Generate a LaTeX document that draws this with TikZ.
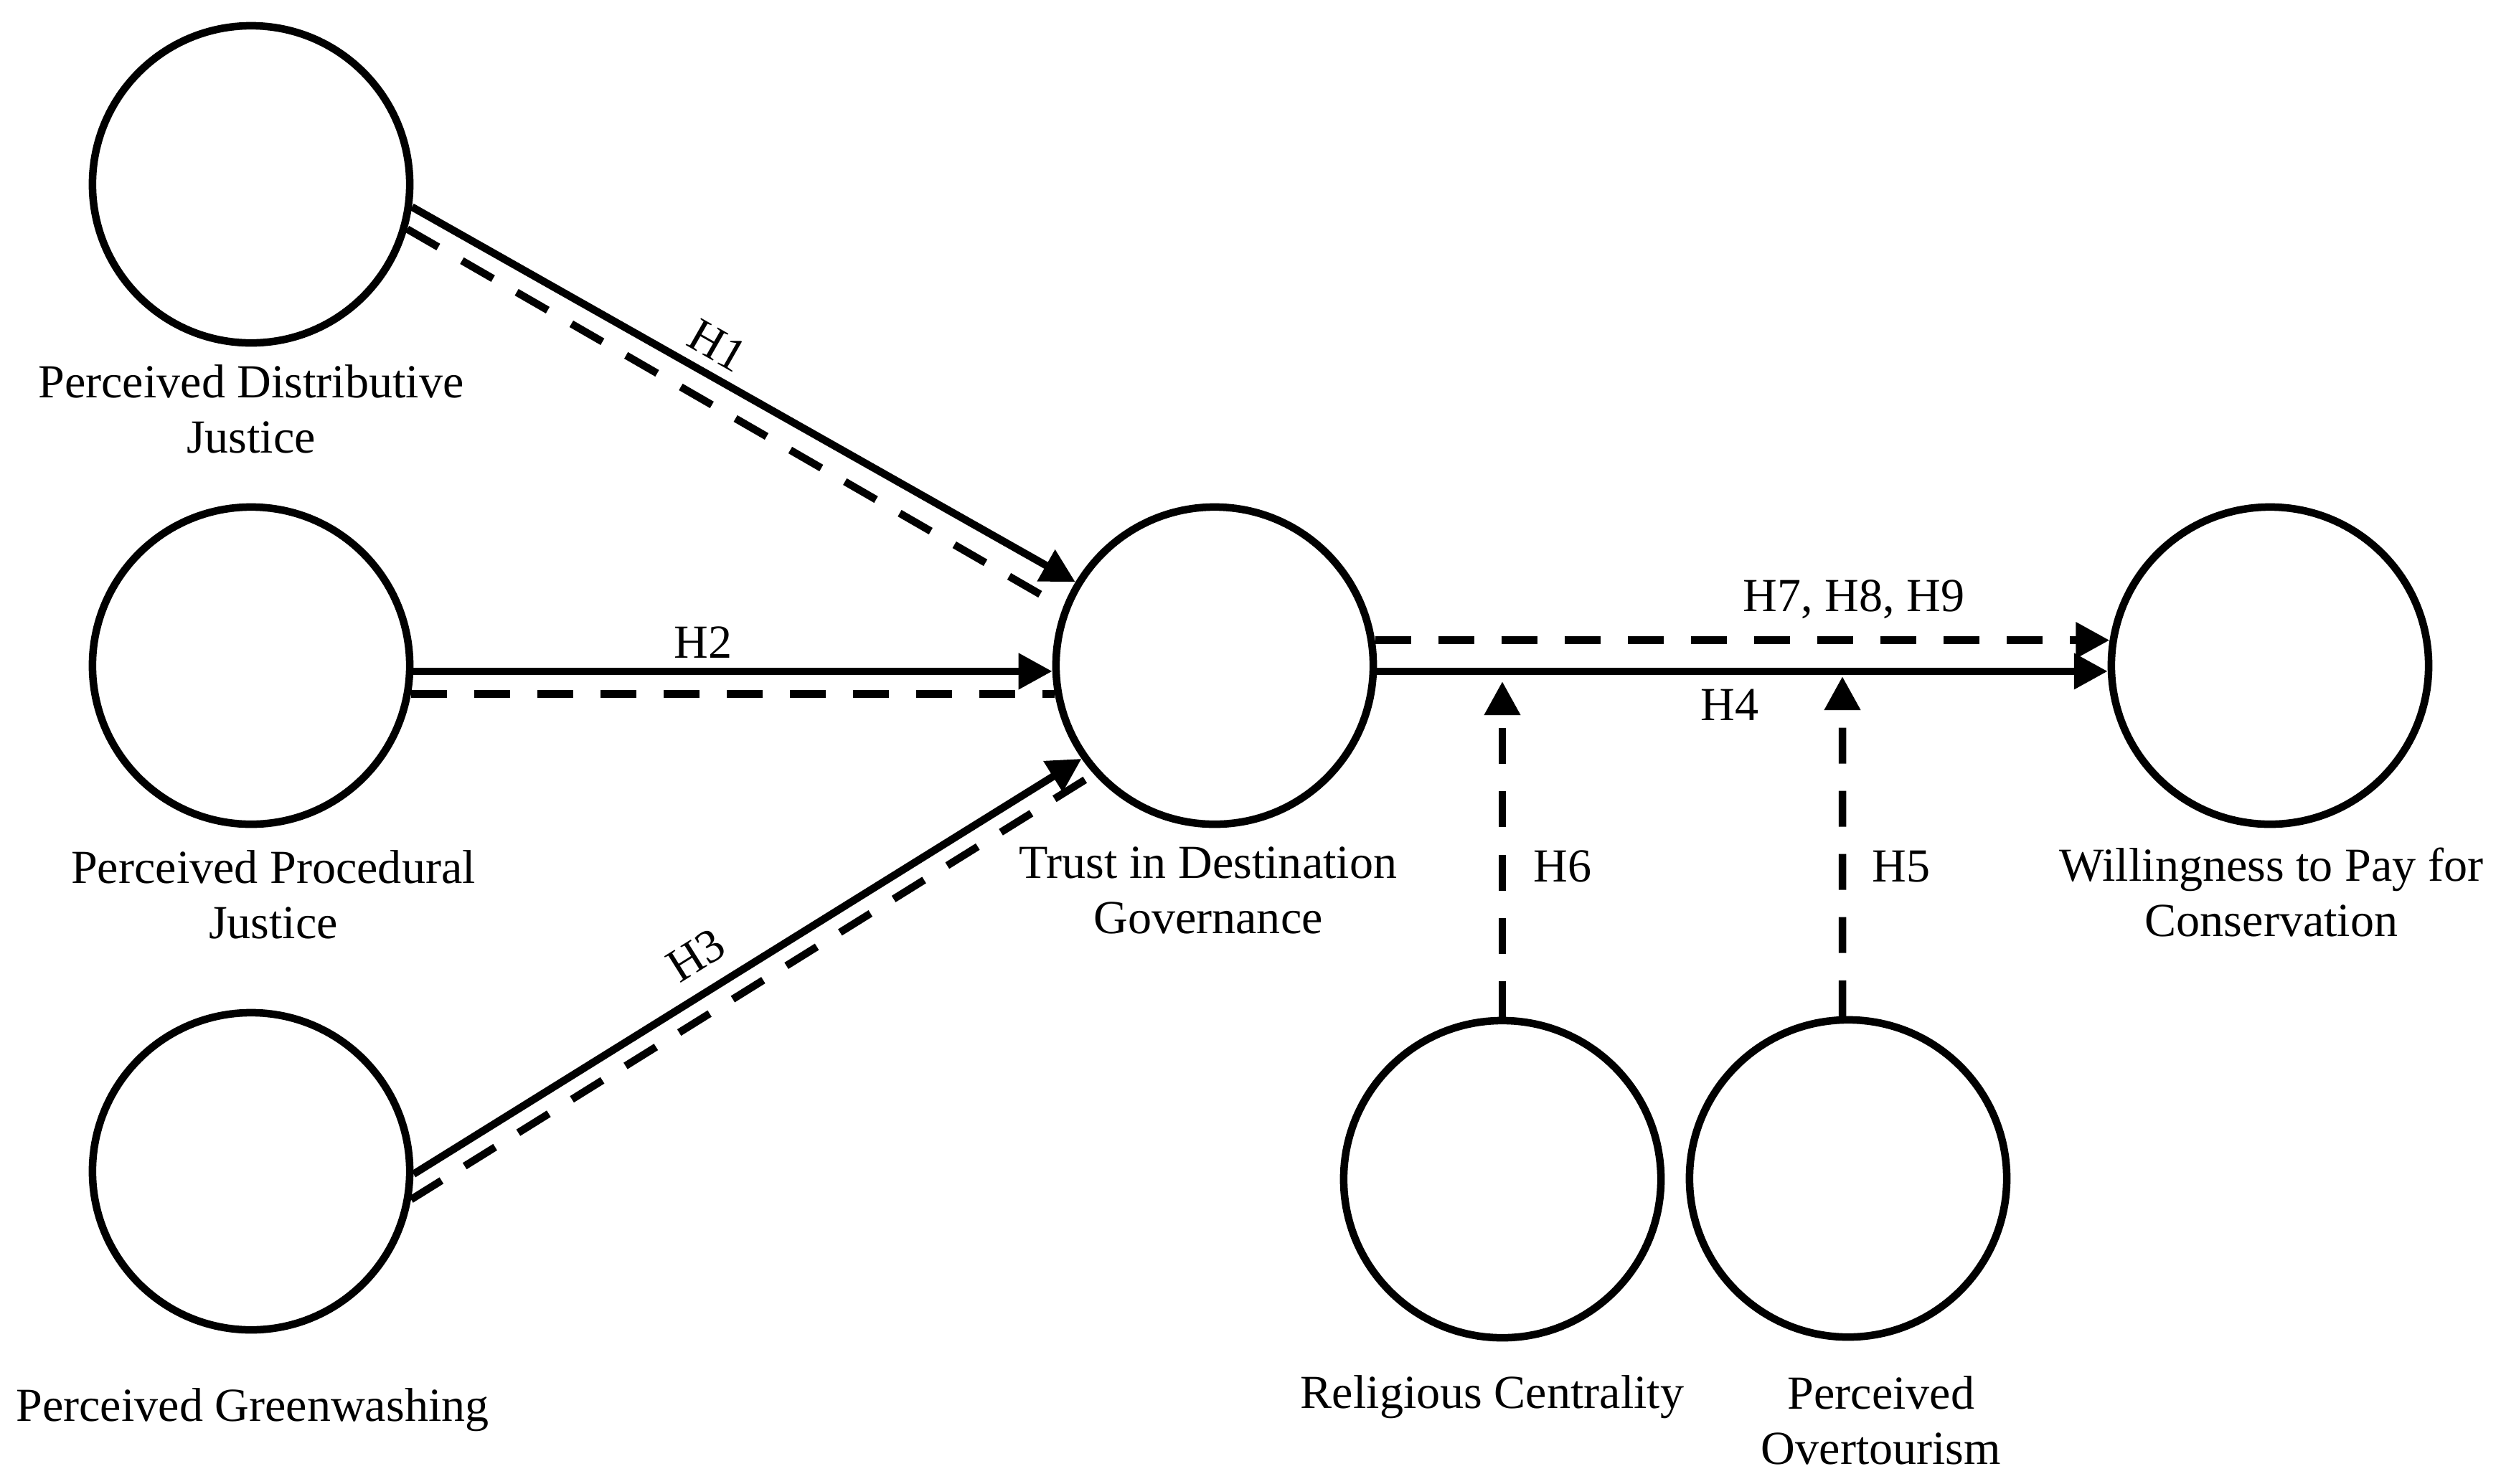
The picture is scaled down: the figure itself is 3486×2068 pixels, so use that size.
\documentclass[tikz,border=0pt]{standalone}
\usepackage{fontspec}
\setmainfont{Liberation Serif}
\usetikzlibrary{arrows.meta}
\begin{document}
\begin{tikzpicture}[x=0.01cm,y=-0.01cm,
  lv/.style={circle,draw,line width=0.105cm,minimum size=4.42cm,inner sep=0pt},
  lbl/.style={font=\fontsize{18.8pt}{22pt}\selectfont,align=center,inner sep=0pt},
  hyp/.style={font=\fontsize{18.8pt}{22pt}\selectfont,inner sep=0pt},
  solidarrow/.style={line width=0.105cm,-{Triangle[length=0.47cm,width=0.48cm]}},
  dashlink/.style={line width=0.105cm,dash pattern=on 0.5cm off 0.38cm},
  dasharrow/.style={dashlink,-{Triangle[length=0.47cm,width=0.48cm]}}]
\useasboundingbox (0,0) rectangle (3486,2068);
% latent variables
\node[lv] (pdj) at (350,257) {};
\node[lv] (ppj) at (350,928) {};
\node[lv] (pg)  at (350,1633) {};
\node[lv] (tdg) at (1693,928) {};
\node[lv] (wtp) at (3164,928) {};
\node[lv] (rc)  at (2094,1644) {};
\node[lv] (po)  at (2576,1643) {};
% names
\node[lbl,anchor=north] (pdjt) at (350,508) {Perceived Distributive\\Justice};
\node[lbl,anchor=north] (ppjt) at (381,1185) {Perceived Procedural\\Justice};
\node[lbl,anchor=north] (pgt)  at (352,1935) {Perceived Greenwashing};
\node[lbl,anchor=north] (tdgt) at (1684,1180) {Trust in Destination\\Governance};
\node[lbl,anchor=north] (wtpt) at (3166,1181) {Willingness to Pay for\\Conservation};
\node[lbl,anchor=north] (rct)  at (2080,1917) {Religious Centrality};
\node[lbl,anchor=north] (pot)  at (2622,1918) {Perceived\\Overtourism};
% paths
\draw[solidarrow] (pdj.352) -- (tdg.149);
\draw[dashlink]   (pdj.344) -- (tdg.159);
\draw[solidarrow] (ppj.358) -- (tdg.182);
\draw[dashlink]   (ppj.350) -- (tdg.190);
\draw[solidarrow] (pg.359) -- (tdg.215);
\draw[dashlink]   (pg.350) -- (tdg.222);
\draw[solidarrow] (tdg.358) -- (wtp.182);
\draw[dasharrow]  (tdg.9) -- (wtp.171);
\coordinate (h6tip) at (2094,950);
\coordinate (h5tip) at (2568,943);
\draw[dasharrow] (rc.90) -- (h6tip);
\draw[dasharrow] (po.92) -- (h5tip);
% hypothesis labels
\node[hyp,rotate=-29.7] (h1) at (1000,482) {H1};
\node[hyp,anchor=base] (h2) at (980,917) {H2};
\node[hyp,rotate=32] (h3) at (970,1332) {H3};
\node[hyp,anchor=base] (h789) at (2584,852) {H7, H8, H9};
\node[hyp,anchor=base] (h4) at (2411,1004) {H4};
\node[hyp,anchor=base] (h6) at (2178,1229) {H6};
\node[hyp,anchor=base] (h5) at (2650,1229) {H5};
\end{tikzpicture}
\end{document}
